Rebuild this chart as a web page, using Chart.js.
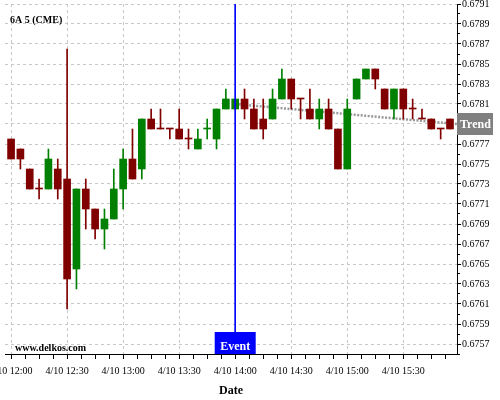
<!DOCTYPE html>
<html>
<head>
<meta charset="utf-8">
<script src="https://cdn.jsdelivr.net/npm/chart.js@4.4.0/dist/chart.umd.min.js"></script>
<style>
  html, body { margin: 0; padding: 0; background: #fff; }
</style>
</head>
<body>
<canvas id="graphCandles" width="500" height="400"></canvas>
<script>
// 5 minute candles, index 0 = 4/10 12:00
const openP = [0.67775, 0.67765, 0.67745, 0.67725, 0.67725, 0.67745, 0.67735, 0.67645, 0.67725, 0.67705,
  0.67685, 0.67695, 0.67725, 0.67755, 0.67745, 0.67795, 0.67785, 0.67785, 0.67785, 0.67775,
  0.67765, 0.67785, 0.67775, 0.67805, 0.67805, 0.67815, 0.67805, 0.67795, 0.67795, 0.67815,
  0.67835, 0.67815, 0.67805, 0.67795, 0.67805, 0.67785, 0.67745, 0.67815, 0.67835, 0.67845,
  0.67825, 0.67805, 0.67825, 0.67805, 0.67795, 0.67795, 0.67785, 0.67795];
const highP = [0.67775, 0.67765, 0.67745, 0.67735, 0.67765, 0.67755, 0.67865, 0.67725, 0.67735, 0.67705,
  0.67705, 0.67745, 0.67765, 0.67785, 0.67795, 0.67805, 0.67805, 0.67785, 0.67805, 0.67785,
  0.67785, 0.67795, 0.67805, 0.67825, 0.67815, 0.67825, 0.67815, 0.67815, 0.67825, 0.67845,
  0.67835, 0.67815, 0.67825, 0.67815, 0.67815, 0.67785, 0.67815, 0.67835, 0.67845, 0.67845,
  0.67825, 0.67825, 0.67825, 0.67815, 0.67805, 0.67795, 0.67785, 0.67795];
const lowP = [0.67755, 0.67745, 0.67725, 0.67715, 0.67725, 0.67715, 0.67605, 0.67625, 0.67685, 0.67675,
  0.67665, 0.67695, 0.67705, 0.67735, 0.67735, 0.67785, 0.67785, 0.67775, 0.67775, 0.67765,
  0.67765, 0.67775, 0.67765, 0.67805, 0.67805, 0.67795, 0.67785, 0.67775, 0.67795, 0.67815,
  0.67805, 0.67795, 0.67795, 0.67785, 0.67785, 0.67745, 0.67745, 0.67815, 0.67835, 0.67825,
  0.67805, 0.67795, 0.67795, 0.67795, 0.67795, 0.67785, 0.67775, 0.67785];
const closeP = [0.67755, 0.67755, 0.67725, 0.67725, 0.67755, 0.67725, 0.67635, 0.67725, 0.67705, 0.67685,
  0.67695, 0.67725, 0.67755, 0.67735, 0.67795, 0.67785, 0.67785, 0.67785, 0.67775, 0.67775,
  0.67775, 0.67785, 0.67805, 0.67815, 0.67815, 0.67805, 0.67785, 0.67785, 0.67815, 0.67835,
  0.67815, 0.67815, 0.67795, 0.67805, 0.67785, 0.67745, 0.67805, 0.67835, 0.67845, 0.67835,
  0.67805, 0.67825, 0.67805, 0.67805, 0.67795, 0.67785, 0.67785, 0.67785];

const xTickLabels = ['4/10 12:00', '4/10 12:30', '4/10 13:00', '4/10 13:30', '4/10 14:00', '4/10 14:30', '4/10 15:00', '4/10 15:30'];

const trendX = [24, 47.75];
const trendY = [0.6781, 0.6779];

const eventIndex = 24;
const eventLabel = 'Event';
const trendLabel = 'Trend';
const titleText = '6A 5 (CME)';
const siteText = 'www.delkos.com';

const yMin = 0.6756;
const yMax = 0.6791;
const xMin = -0.65;
const xMax = 47.75;

const upColor = '#008000';
const downColor = '#800000';
const serif = '"Liberation Serif", "Times New Roman", serif';

// couleur : hausse / baisse, doji selon la clôture précédente
const candleColor = (i) => {
	if (closeP[i] > openP[i]) return upColor;
	if (closeP[i] < openP[i]) return downColor;
	return i > 0 && closeP[i] > closeP[i - 1] ? upColor : downColor;
};
const colors = openP.map((o, i) => candleColor(i));

const isMajorY = (v) => Math.abs(Math.round(v * 10000)) % 2 === 1;
const isMajorX = (v) => Math.abs(v / 6 - Math.round(v / 6)) < 1e-6;

const decor = {
	id: 'decor',
	beforeDraw(chart) {
		const ctx = chart.ctx;
		ctx.save();
		ctx.fillStyle = '#fff';
		ctx.fillRect(0, 0, chart.width, chart.height);
		ctx.restore();
	},
	afterDraw(chart) {
		const { ctx, chartArea, scales } = chart;
		ctx.save();
		ctx.fillStyle = '#000';
		ctx.textBaseline = 'middle';
		ctx.textAlign = 'left';
		ctx.font = 'bold 10px ' + serif;
		ctx.fillText(titleText, 10, 20);
		ctx.fillText(siteText, 15, 348);

		// boîte événement
		const ex = scales.x.getPixelForValue(eventIndex);
		ctx.fillStyle = '#0000ff';
		ctx.fillRect(ex - 20.5, chartArea.bottom - 22, 41, 22);
		ctx.fillStyle = '#fff';
		ctx.font = 'bold 12px ' + serif;
		ctx.textAlign = 'center';
		ctx.fillText(eventLabel, ex, chartArea.bottom - 7);

		// étiquette tendance
		const ty = scales.y.getPixelForValue(trendY[trendY.length - 1]);
		ctx.fillStyle = '#808080';
		ctx.fillRect(chartArea.right, ty - 11, 36, 22);
		ctx.fillStyle = '#fff';
		ctx.textAlign = 'left';
		ctx.fillText(trendLabel, chartArea.right + 3, ty + 1);
		ctx.restore();
	}
};

const canva = document.querySelector('#graphCandles');
new Chart(canva, {
	type: 'bar',
	data: {
		datasets: [
			{
				type: 'line',
				data: trendX.map((x, i) => ({ x: x, y: trendY[i] })),
				borderColor: '#999999',
				borderWidth: 2.5,
				borderDash: [2, 1.5],
				pointRadius: 0,
				order: 3,
			},
			{
				data: highP.map((h, i) => ({ x: i, y: [lowP[i], h] })),
				backgroundColor: colors,
				barThickness: 1,
				grouped: false,
				order: 2,
			},
			{
				data: openP.map((o, i) => ({ x: i, y: [o, closeP[i]] })),
				backgroundColor: colors,
				barThickness: 7,
				minBarLength: 1,
				grouped: false,
				order: 1,
			},
			{
				type: 'line',
				data: [{ x: eventIndex, y: yMax }, { x: eventIndex, y: yMin }],
				borderColor: '#0000ff',
				borderWidth: 1,
				pointRadius: 0,
				order: 0,
			},
		],
	},
	options: {
		responsive: false,
		animation: false,
		layout: { padding: { left: 5, top: 4, right: 0, bottom: 0 } },
		plugins: { legend: { display: false }, tooltip: { enabled: false } },
		scales: {
			x: {
				type: 'linear',
				min: xMin,
				max: xMax,
				offset: false,
				grid: {
					offset: false,
					color: (c) => (isMajorX(c.tick.value) ? '#c8c8c8' : 'rgba(0,0,0,0)'),
					tickColor: '#000',
					tickLength: 5,
				},
				border: { color: '#000', width: 1, dash: [3, 3] },
				ticks: {
					stepSize: 1.5,
					includeBounds: false,
					autoSkip: false,
					maxRotation: 0,
					color: '#000',
					padding: 6,
					font: { family: serif, size: 10 },
					callback: (v) => (isMajorX(v) ? xTickLabels[Math.round(v / 6)] || '' : ''),
				},
				title: {
					display: true,
					text: 'Date',
					color: '#000',
					font: { family: serif, size: 12, weight: 'bold' },
					padding: { top: 0, bottom: 2 },
				},
				afterFit: (scale) => {
					scale.height = 46;
					scale.paddingLeft = 0;
					scale.paddingRight = 0;
				},
			},
			y: {
				position: 'right',
				min: yMin,
				max: yMax,
				grid: {
					color: (c) => (isMajorY(c.tick.value) ? '#c8c8c8' : 'rgba(0,0,0,0)'),
					tickColor: '#000',
					tickLength: 4,
					tickBorderDash: (c) => (isMajorY(c.tick.value) ? [] : [2, 10]),
				},
				border: { color: '#000', width: 1, dash: [3, 3] },
				ticks: {
					stepSize: 0.0001,
					includeBounds: false,
					autoSkip: false,
					color: '#000',
					padding: 1,
					font: { family: serif, size: 10 },
					callback: (v) => (isMajorY(v) ? v.toFixed(4) : ''),
				},
				afterFit: (scale) => {
					scale.width = 43;
					scale.paddingTop = 0;
					scale.paddingBottom = 0;
				},
			},
		},
	},
	plugins: [decor],
});
</script>
</body>
</html>
